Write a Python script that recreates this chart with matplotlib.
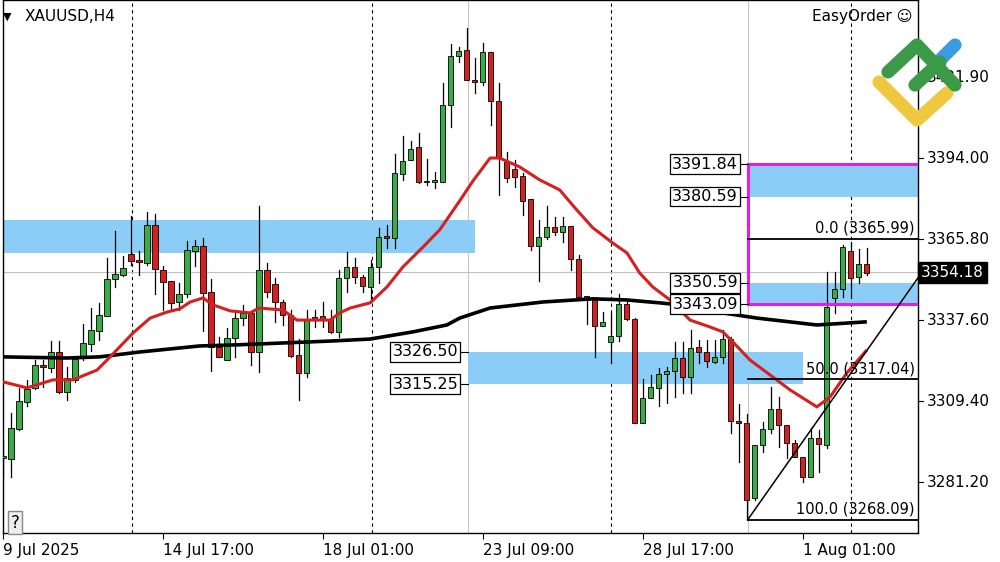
import matplotlib
matplotlib.use("Agg")
import matplotlib.pyplot as plt
from matplotlib.patches import Rectangle
from matplotlib.lines import Line2D

opens = [3289.6,3289.3,3299.7,3309.1,3314.0,3322.0,3320.9,3326.5,3312.6,3316.8,
         3324.8,3329.3,3333.8,3339.0,3351.9,3353.3,3360.6,3358.5,3357.5,3370.7,
         3355.0,3351.2,3343.9,3346.7,3361.7,3363.4,3347.4,3328.2,3323.7,3331.4,
         3338.3,3340.1,3326.5,3355.0,3350.2,3343.9,3339.4,3325.5,3319.2,3338.7,
         3339.0,3338.0,3333.5,3352.3,3356.1,3352.6,3349.1,3356.1,3366.5,3366.2,
         3388.4,3393.3,3397.8,3385.7,3385.7,3385.7,3412.5,3429.5,3431.6,3420.8,
         3420.5,3430.9,3413.9,3392.6,3390.2,3387.8,3379.7,3363.4,3366.5,3370.0,
         3368.3,3370.4,3358.9,3346.0,3344.6,3335.6,3330.0,3332.1,3343.2,3338.0,
         3301.8,3310.5,3314.0,3318.8,3319.9,3324.4,3317.8,3328.2,3326.5,3323.0,
         3324.8,3331.0,3302.5,3301.8,3275.7,3294.1,3299.7,3306.7,3301.1,3294.8,
         3290.0,3283.0,3296.6,3294.1,3345.3,3348.4,3361.7,3352.6,3357.1]
highs = [3295.9,3305.3,3314.0,3316.8,3323.7,3323.7,3330.3,3330.3,3321.3,3324.1,
         3336.2,3341.8,3343.6,3359.2,3368.6,3359.9,3373.8,3361.7,3375.2,3374.5,
         3356.4,3351.2,3350.5,3365.1,3365.5,3366.2,3351.9,3331.7,3334.9,3341.1,
         3342.9,3340.4,3377.3,3357.5,3352.3,3344.6,3341.1,3331.0,3341.1,3341.1,
         3343.9,3341.1,3355.0,3361.3,3359.2,3353.3,3358.5,3369.7,3370.7,3395.4,
         3401.7,3399.9,3402.7,3393.7,3389.1,3420.1,3433.7,3432.6,3439.3,3428.8,
         3434.0,3430.9,3420.1,3396.1,3393.3,3388.8,3379.7,3372.4,3377.3,3373.5,
         3373.5,3370.4,3360.3,3346.0,3344.6,3340.4,3340.1,3346.7,3344.6,3338.3,
         3317.1,3318.5,3320.9,3321.3,3330.0,3330.0,3334.2,3330.7,3330.7,3330.7,
         3334.2,3331.7,3308.4,3304.9,3294.1,3302.1,3314.3,3310.8,3301.1,3295.9,
         3290.0,3300.1,3299.4,3354.3,3354.3,3363.7,3364.8,3362.3,3362.7]
lows = [3283.0,3283.0,3299.4,3307.7,3313.6,3314.3,3319.5,3312.2,3309.8,3316.1,
        3323.7,3326.9,3330.7,3339.0,3349.1,3353.0,3356.8,3353.3,3356.8,3346.7,
        3341.1,3341.1,3341.1,3345.6,3356.4,3333.8,3319.9,3324.8,3323.7,3324.8,
        3335.9,3322.0,3319.5,3345.6,3336.9,3335.9,3324.8,3309.8,3317.8,3335.2,
        3335.2,3333.1,3331.7,3347.4,3350.5,3347.4,3344.6,3350.5,3362.7,3362.7,
        3386.4,3393.3,3385.3,3384.6,3383.6,3385.7,3404.8,3427.4,3421.2,3416.6,
        3419.4,3405.5,3381.1,3385.7,3383.9,3374.2,3362.0,3351.2,3365.8,3367.2,
        3364.8,3355.0,3345.6,3336.2,3324.8,3335.6,3322.7,3330.3,3337.6,3301.8,
        3301.8,3310.5,3307.7,3308.8,3310.8,3312.2,3312.2,3322.7,3321.3,3322.7,
        3322.7,3298.3,3288.2,3268.4,3275.0,3291.7,3298.3,3293.4,3289.6,3290.0,
        3281.3,3283.0,3284.7,3293.1,3340.1,3345.6,3345.3,3350.5,3353.3]
closes = [3290.3,3300.1,3309.5,3313.6,3322.0,3321.3,3326.5,3312.6,3317.5,3324.1,
          3329.6,3334.2,3339.4,3351.9,3353.6,3355.7,3358.2,3357.8,3370.7,3355.4,
          3350.9,3343.6,3346.7,3362.0,3363.4,3347.0,3328.2,3324.8,3331.4,3338.3,
          3340.1,3326.5,3355.0,3347.4,3343.9,3339.4,3325.1,3319.2,3337.6,3338.0,
          3338.0,3333.5,3352.3,3356.1,3352.6,3349.5,3356.1,3366.5,3366.2,3388.8,
          3393.0,3397.1,3385.7,3385.5,3385.8,3412.5,3429.5,3431.3,3421.2,3420.6,
          3430.9,3413.9,3394.0,3387.1,3387.4,3379.1,3363.4,3366.5,3370.0,3368.3,
          3370.4,3358.9,3345.6,3344.6,3335.6,3336.9,3332.1,3343.2,3338.0,3301.8,
          3310.5,3314.3,3318.8,3319.9,3324.4,3317.8,3327.9,3326.5,3323.4,3324.8,
          3331.0,3302.5,3301.8,3275.0,3294.1,3299.7,3306.7,3301.1,3294.8,3290.0,
          3283.0,3296.6,3294.5,3342.2,3348.4,3363.0,3352.3,3357.1,3354.0]

red_ma_bar = [0,3,6.25,8.75,11.75,13.4,16.25,18.4,20.5,22.1,23.4,25,26.25,28.4,30.9,32,35,36.75,
              40.9,42.1,43.4,45.9,48,50,52.5,54.6,57.1,58.75,60.9,62.1,64.6,67.1,69.6,71.75,
              73.75,76.25,78,79.6,81.25,83.4,85.9,88.4,90,91.25,93.4,96.25,98.4,101.75,103.4,105.5,108]
red_ma_val = [3316.1,3314.0,3316.8,3316.8,3320.2,3324.8,3333.1,3338.3,3340.4,3341.5,3343.9,3345.3,3342.9,
              3340.8,3340.1,3341.8,3341.1,3337.6,3337.6,3340.1,3341.8,3343.6,3349.1,3356.1,3363.0,3369.0,
              3379.1,3386.0,3394.0,3394.0,3390.9,3386.4,3382.9,3375.9,3369.7,3364.4,3361.0,3354.0,3349.1,
              3344.6,3337.6,3335.2,3333.5,3330.0,3323.7,3317.8,3313.3,3307.4,3310.8,3319.2,3327.2]
blk_ma_bar = [0,8,12.1,17.1,24.6,29.4,40.9,45.9,51.25,55.5,57.1,60.9,67.5,73.75,78,82.1,87.1,90,94.25,101.75,108]
blk_ma_val = [3324.8,3324.4,3324.8,3326.5,3328.6,3329.0,3330.3,3331.0,3333.5,3335.9,3338.3,3341.8,3343.9,
              3345.0,3344.6,3343.6,3342.2,3340.1,3338.3,3335.9,3337.0]

y_ticks = [3281.20, 3309.40, 3337.60, 3365.80, 3394.00, 3421.90]
x_tick_bars = [0, 20, 40, 60, 80, 100]
x_tick_labels = ["9 Jul 2025", "14 Jul 17:00", "18 Jul 01:00", "23 Jul 09:00", "28 Jul 17:00", "1 Aug 01:00"]
vgrid_dashed = [16.1, 46.1, 76, 106]
vgrid_solid = [58.1, 93.1]

zones = [(0, 59, 3361.0, 3372.4), (58.1, 100, 3315.25, 3326.50),
         (93.1, 115, 3380.59, 3391.84), (93.1, 115, 3343.09, 3350.59)]
level_labels = [("3391.84", 93.1), ("3380.59", 93.1), ("3350.59", 93.1), ("3343.09", 93.1),
                ("3326.50", 58.1), ("3315.25", 58.1)]
fib_low, fib_high = 3268.09, 3365.99
current_price = 3354.18

GREEN = "#3daa48"
RED = "#d42020"
BLUE = "#8ccdf7"

fig = plt.figure(figsize=(10, 5.62), dpi=100)
ax = fig.add_axes([0.003, 29/562, 0.915, 533/562])
ax.set_xlim(0, 114.4)
ax.set_ylim(3263.5, 3449.0)

for xb in vgrid_dashed:
    ax.axvline(xb, color="black", lw=0.8, ls=(0, (3, 3)), zorder=1)
for xb in vgrid_solid:
    ax.axvline(xb, color="#c8c8c8", lw=0.8, zorder=1)
ax.axhline(current_price, color="#c0c0c0", lw=0.8, zorder=1)

for x0, x1, lo, hi in zones:
    ax.add_patch(Rectangle((x0, lo), x1 - x0, hi - lo, color=BLUE, lw=0, zorder=1.5))

ax.add_patch(Rectangle((93.1, 3343.09), 30, 3391.84 - 3343.09, fill=False,
                       edgecolor="#e020e0", lw=2.2, zorder=6))

for i, (o, h, l, c) in enumerate(zip(opens, highs, lows, closes)):
    ax.plot([i, i], [l, h], color="black", lw=0.9, zorder=3)
    col = GREEN if c >= o else RED
    b = min(o, c)
    ht = max(abs(c - o), 0.6)
    ax.add_patch(Rectangle((i - 0.32, b), 0.64, ht, facecolor=col, edgecolor="black", lw=0.6, zorder=4))

ax.plot(blk_ma_bar, blk_ma_val, color="black", lw=2.6, zorder=5, solid_capstyle="butt")
ax.plot(red_ma_bar, red_ma_val, color=RED, lw=2.2, zorder=5, solid_capstyle="butt")

for lvl, txt in [(fib_high, "0.0 (3365.99)"), ((fib_high + fib_low) / 2, "50.0 (3317.04)"),
                 (fib_low, "100.0 (3268.09)")]:
    ax.plot([93.1, 114.4], [lvl, lvl], color="black", lw=1.3, zorder=6)
    ax.text(114.0, lvl + 1.0, txt, ha="right", va="bottom", fontsize=10.5, zorder=7)
ax.plot([93.1, 114.4], [fib_low, 3352.3], color="black", lw=1.1, zorder=6)

for txt, xb in level_labels:
    v = float(txt)
    ax.plot([xb - 1.0, xb], [v, v], color="black", lw=0.8, zorder=7)
    ax.text(xb - 1.2, v, txt, ha="right", va="center", fontsize=11.5, zorder=8,
            bbox=dict(boxstyle="square,pad=0.15", fc="white", ec="black", lw=0.9))

ax.set_yticks([])
ax.set_xticks(x_tick_bars)
ax.set_xticklabels(x_tick_labels, ha="left", fontsize=11)
ax.tick_params(axis="x", length=4, pad=3)
for sp in ax.spines.values():
    sp.set_linewidth(1)

for t in y_ticks:
    yf = ax.transData.transform((0, t))[1]
    yfig = fig.transFigure.inverted().transform((0, yf))[1]
    fig.add_artist(Line2D([0.918, 0.923], [yfig, yfig], color="black", lw=0.8))
    fig.text(0.927, yfig, f"{t:.2f}", va="center", ha="left", fontsize=11, zorder=3)

yf = fig.transFigure.inverted().transform(ax.transData.transform((0, current_price)))[1]
fig.text(0.921, yf, f"{current_price:.2f}", va="center", ha="left", fontsize=11, color="white",
         bbox=dict(boxstyle="square,pad=0.2", fc="black", ec="black"))

fig.text(0.003, 0.97, "\u25bc", fontsize=8, va="center")
fig.text(0.025, 0.97, "XAUUSD,H4", fontsize=11, va="center")
fig.text(0.812, 0.97, "EasyOrder \u263a", fontsize=11, va="center")
fig.text(0.015, 0.07, "?", fontsize=12, va="center", ha="center",
         bbox=dict(boxstyle="square,pad=0.15", fc="#eeeeee", ec="#888888"))

def fl(pts, color):
    xs = [p[0] / 1000 for p in pts]
    ys = [1 - p[1] / 562 for p in pts]
    fig.add_artist(Line2D(xs, ys, color=color, lw=9.5, solid_capstyle="round",
                          solid_joinstyle="round", zorder=10))
fl([(879, 82), (917, 120), (947, 93)], "#f0c840")
fl([(955, 45), (938, 62)], "#3a9be0")
fl([(888, 72), (917, 45), (955, 85)], "#3a9a48")
fl([(915, 85), (940, 62)], "#3a9a48")

fig.savefig("out.png", dpi=100)
